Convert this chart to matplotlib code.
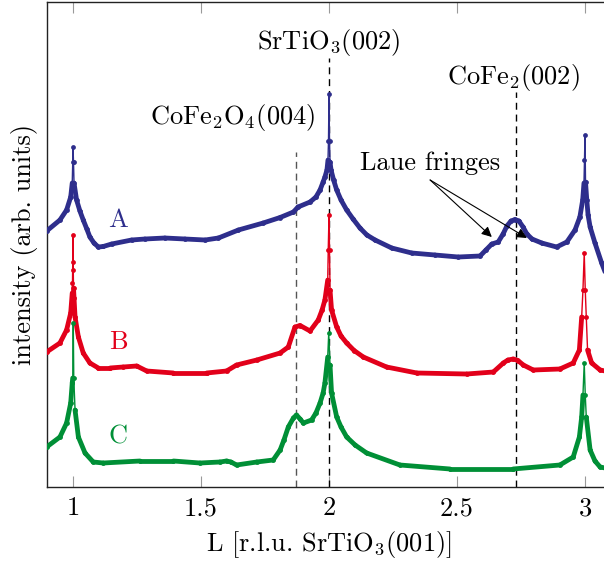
import numpy as np
import matplotlib
matplotlib.use("Agg")
import matplotlib.pyplot as plt
from matplotlib.collections import LineCollection

plt.rcParams['font.family'] = 'cmr10'
plt.rcParams['mathtext.fontset'] = 'cm'
plt.rcParams['axes.unicode_minus'] = False
plt.rcParams['axes.formatter.use_mathtext'] = True

# Momentum transfer L (r.l.u.) and offset intensities (arb. units)
L_A = [0.897, 0.949, 0.975, 0.991, 0.997, 0.999, 1.000, 1.002, 1.004, 1.014, 1.027,
       1.040, 1.054, 1.066, 1.082, 1.099, 1.118, 1.151, 1.229, 1.281, 1.359, 1.4375,
       1.516, 1.568, 1.646, 1.743, 1.809, 1.861, 1.879, 1.926, 1.949, 1.965, 1.977,
       1.984, 1.992, 1.996, 1.998, 2.000, 2.002, 2.004, 2.008, 2.018, 2.030, 2.047,
       2.069, 2.094, 2.121, 2.148, 2.180, 2.245, 2.323, 2.414, 2.505, 2.590, 2.613,
       2.636, 2.661, 2.680, 2.695, 2.711, 2.727, 2.742, 2.758, 2.773, 2.793, 2.831,
       2.889, 2.929, 2.961, 2.980, 2.991, 2.996, 2.998, 3.000, 3.002, 3.007, 3.012,
       3.020, 3.039, 3.065, 3.098]
I_A = [2.56, 2.67, 2.77, 2.90, 3.04, 3.25, 3.40, 3.25, 3.04, 2.87, 2.76,
       2.67, 2.58, 2.50, 2.44, 2.40, 2.405, 2.43, 2.47, 2.48, 2.49, 2.48,
       2.47, 2.49, 2.57, 2.64, 2.695, 2.75, 2.80, 2.85, 2.90, 2.97, 3.05,
       3.10, 3.17, 3.27, 3.46, 3.93, 3.46, 3.25, 3.17, 3.07, 2.97, 2.87,
       2.77, 2.68, 2.59, 2.52, 2.47, 2.39, 2.34, 2.32, 2.30, 2.31, 2.37,
       2.43, 2.45, 2.53, 2.61, 2.66, 2.675, 2.66, 2.60, 2.53, 2.48, 2.44,
       2.40, 2.45, 2.57, 2.70, 2.87, 3.04, 3.27, 3.52, 3.05, 2.87, 2.72,
       2.60, 2.44, 2.24, 2.02]

L_B = [0.897, 0.949, 0.975, 0.991, 0.997, 0.998, 0.999, 1.000, 1.001, 1.002, 1.004,
       1.008, 1.021, 1.040, 1.066, 1.099, 1.145, 1.196, 1.249, 1.288, 1.392, 1.522,
       1.600, 1.639, 1.718, 1.809, 1.841, 1.867, 1.887, 1.926, 1.958, 1.973, 1.984,
       1.995, 1.997, 2.000, 2.002, 2.004, 2.010, 2.030, 2.047, 2.069, 2.098, 2.134,
       2.225, 2.343, 2.538, 2.642, 2.681, 2.699, 2.720, 2.738, 2.759, 2.798, 2.902,
       2.954, 2.978, 2.987, 2.992, 2.997, 3.001, 3.005, 3.010, 3.026, 3.059, 3.098]
I_B = [1.35, 1.44, 1.57, 1.74, 1.94, 2.04, 2.25, 2.52, 2.17, 1.99, 1.89,
       1.70, 1.50, 1.34, 1.24, 1.19, 1.19, 1.20, 1.21, 1.16, 1.14, 1.14,
       1.16, 1.22, 1.27, 1.34, 1.40, 1.60, 1.615, 1.56, 1.67, 1.77, 1.87,
       2.07, 2.37, 2.72, 2.37, 1.97, 1.77, 1.60, 1.51, 1.44, 1.365, 1.30,
       1.20, 1.14, 1.13, 1.15, 1.24, 1.27, 1.28, 1.265, 1.22, 1.17, 1.18,
       1.24, 1.37, 1.70, 1.97, 2.34, 1.97, 1.70, 1.37, 1.24, 1.17, 1.15]

L_C = [0.897, 0.949, 0.975, 0.991, 0.997, 0.999, 1.001, 1.003, 1.008, 1.021, 1.047,
       1.079, 1.118, 1.262, 1.392, 1.496, 1.574, 1.600, 1.617, 1.639, 1.718, 1.782,
       1.809, 1.824, 1.841, 1.861, 1.873, 1.887, 1.900, 1.932, 1.949, 1.965, 1.977,
       1.984, 1.995, 1.999, 2.004, 2.010, 2.030, 2.047, 2.069, 2.102, 2.147, 2.277,
       2.473, 2.719, 2.902, 2.954, 2.978, 2.987, 2.992, 2.997, 3.001, 3.005, 3.020,
       3.039, 3.059, 3.098]
I_C = [0.40, 0.50, 0.64, 0.84, 1.04, 1.09, 1.64, 1.09, 0.77, 0.50, 0.34,
       0.25, 0.24, 0.26, 0.26, 0.24, 0.25, 0.26, 0.25, 0.22, 0.25, 0.27,
       0.37, 0.47, 0.60, 0.69, 0.72, 0.68, 0.64, 0.67, 0.74, 0.84, 0.94,
       1.04, 1.30, 1.54, 1.22, 0.94, 0.70, 0.60, 0.50, 0.42, 0.34, 0.22,
       0.18, 0.18, 0.22, 0.30, 0.50, 0.70, 0.92, 1.24, 0.92, 0.70, 0.37,
       0.26, 0.20, 0.18]

samples = ["A", "B", "C"]
colors = ["#2e2e8c", "#e2001a", "#008f36"]
label_L = [1.176, 1.176, 1.176]
label_I = [2.67, 1.45, 0.50]

# Reference reflections
ref_L = [1.87, 2.0, 2.73]
ref_top = [3.35, 4.29, 3.95]
ref_names = [r"CoFe$_2$O$_4$(004)", r"SrTiO$_3$(002)", r"CoFe$_2$(002)"]
ref_name_pos = [(1.625, 3.69), (2.0, 4.45), (2.719, 4.09)]
ref_colors = ["#555555", "black", "black"]

tick_values = [1, 1.5, 2, 2.5, 3]
tick_labels = ["1", "1.5", "2", "2.5", "3"]

DPI = 100
fig = plt.figure(figsize=(6.04, 5.65), dpi=DPI)
ax = fig.add_axes([47.4 / 604, 78 / 565, 563.2 / 604, 485 / 565])
ax.set_xlim(0.9, 3.1)
ax.set_ylim(0, 4.85)

px_per_L = 563.2 / 2.2
px_per_I = 485 / 4.85
thick_pt = 4.8 * 72 / DPI
thin_pt = 1.4 * 72 / DPI


def draw_scan(L, I, color):
    L = np.asarray(L)
    I = np.asarray(I)
    pts = np.column_stack([L, I])
    segs = np.stack([pts[:-1], pts[1:]], axis=1)
    slope = np.abs(np.diff(I) * px_per_I) / np.maximum(np.abs(np.diff(L) * px_per_L), 1e-6)
    flat = segs[slope < 20]
    ax.add_collection(LineCollection(flat, colors=color, linewidths=thick_pt,
                                     capstyle="round", joinstyle="round", zorder=3))
    ax.plot(L, I, color=color, lw=thin_pt, marker="o", ms=4.8 * 72 / DPI,
            mew=0, zorder=3, solid_joinstyle="round")


for xv, top, c in zip(ref_L, ref_top, ref_colors):
    ax.plot([xv, xv], [0, top], color=c, lw=1.0, ls=(0, (5, 3.5)), zorder=2)

for L, I, c in zip([L_A, L_B, L_C], [I_A, I_B, I_C], colors):
    draw_scan(L, I, c)

fs = 19
for s, c, xl, yl in zip(samples, colors, label_L, label_I):
    ax.text(xl, yl, s, color=c, fontsize=fs, ha="center", va="center")

for name, (xn, yn) in zip(ref_names, ref_name_pos):
    ax.text(xn, yn, name, fontsize=fs, ha="center", va="center")

ax.text(2.395, 3.24, "Laue fringes", fontsize=fs, ha="center", va="center")
for head in [(2.636, 2.50), (2.773, 2.49)]:
    ax.annotate("", xy=head, xytext=(2.395, 3.07),
                arrowprops=dict(arrowstyle="-|>", color="black", lw=0.8,
                                mutation_scale=15, shrinkA=0, shrinkB=0))

ax.set_xticks(tick_values)
ax.set_xticklabels(tick_labels)
ax.set_yticks([])
ax.tick_params(axis="x", direction="in", length=8, width=0.8, color="#999999",
               top=True, labelsize=fs, pad=7)
for sp in ax.spines.values():
    sp.set_linewidth(1.0)
    sp.set_color("#222222")

ax.set_xlabel(r"L [r.l.u. SrTiO$_3$(001)]", fontsize=fs, labelpad=6)
ax.set_ylabel("intensity (arb. units)", fontsize=fs, labelpad=7)

fig.savefig("out.png", dpi=DPI)
